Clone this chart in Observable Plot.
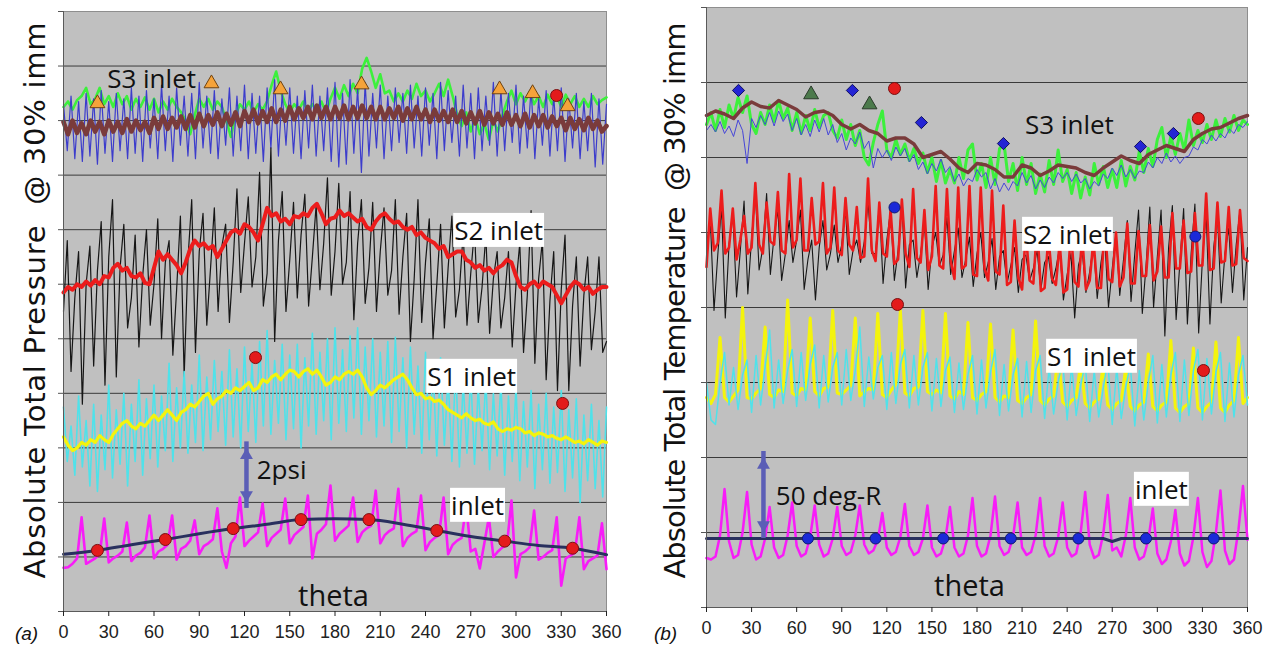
<!DOCTYPE html>
<html>
<head>
<meta charset="utf-8">
<script src="https://cdn.jsdelivr.net/npm/d3@7"></script>
<script src="https://cdn.jsdelivr.net/npm/@observablehq/plot@0.6"></script>
<style>
  html, body { margin: 0; background: #fff; }
  #fig { position: relative; width: 1270px; height: 645px; overflow: hidden; }
  #fig svg { position: absolute; top: 0; overflow: visible; }
  #fig text { white-space: pre; }
</style>
</head>
<body>
<div id="fig"></div>
<script>
// ---------------- shared ----------------
const thetaTicks = [0, 30, 60, 90, 120, 150, 180, 210, 240, 270, 300, 330, 360];

// ---------------- (a) absolute total pressure, psi ----------------
const psiTicks = [0, 2, 4, 6, 8, 10, 12, 14, 16, 18, 20, 22];
const psiGrid = [2, 4, 6, 8, 10, 12, 14, 16, 18, 20];

const pS3Green = [18.5,18.7,18.4,18.75,18.9,19.2,18.6,18.8,19.2,18.6,
  18.9,18.5,19.0,18.6,18.9,18.4,18.8,18.5,18.85,18.4,
  18.8,18.3,18.7,18.4,18.8,18.5,18.3,18.0,17.5,18.2,
  18.8,18.5,18.8,18.4,18.7,18.5,18.0,17.4,18.2,18.6,
  18.4,18.7,18.3,18.6,18.4,18.7,19.3,19.8,19.1,18.6,
  18.3,18.6,18.4,18.7,18.3,18.6,18.4,18.7,18.3,18.8,
  19.2,18.8,19.3,18.9,19.35,19.0,19.9,20.3,19.8,19.2,
  19.7,19.0,19.1,18.7,19.0,18.7,19.1,18.8,19.35,18.9,
  19.1,18.7,19.0,19.35,18.9,19.5,18.9,18.2,17.8,18.3,
  17.6,18.1,17.5,17.9,17.3,18.0,17.6,18.2,18.7,19.1,
  18.6,19.0,18.7,19.05,18.6,18.9,18.5,18.95,18.6,18.9,
  18.5,18.95,18.6,18.9,18.5,18.8,18.5,18.9,18.6,18.75,
  18.85];
const pS3Blue = [18.6,16.9,18.9,16.6,18.7,16.5,19.0,16.7,18.8,16.4,19.1,16.8,18.7,16.5,19.0,16.9,18.8,16.6,19.2,16.8,
  18.9,16.5,19.1,17.0,18.8,16.6,19.3,16.9,18.9,16.5,19.2,17.1,18.9,16.7,19.0,16.6,19.4,17.0,18.9,16.8,
  19.1,16.6,18.8,17.1,19.2,16.7,18.9,16.9,19.3,16.6,19.0,16.8,18.9,16.5,19.2,17.0,19.5,16.7,19.0,17.1,
  19.2,16.8,18.9,16.6,19.1,17.0,19.3,16.7,18.9,16.9,19.2,16.5,19.4,16.3,19.0,16.4,19.5,16.8,19.2,16.1,
  19.4,16.7,19.0,17.0,19.3,16.6,18.9,16.9,19.2,17.2,19.0,16.8,19.3,17.0,18.9,16.7,19.2,17.1,19.0,16.6,
  19.4,16.9,19.1,17.2,18.9,16.7,19.3,17.0,19.0,16.6,19.2,16.9,18.9,17.1,19.4,16.7,19.1,16.9,19.0,17.2,
  19.3,16.8,18.9,17.0,19.2,16.6,18.8,17.1,19.1,16.7,18.9,16.9,19.2,16.5,18.8,17.0,19.0,16.6,18.7,16.9,
  19.0,16.3,18.8,16.4,
  18.6];
const pS3Brown = [17.95,17.5,18.0,17.55,17.9,17.5,18.0,17.6,17.95,17.5,
  18.0,17.6,17.95,17.55,18.05,17.6,18.0,17.65,17.95,17.55,
  18.1,17.7,18.15,17.7,18.1,17.75,18.15,17.7,18.2,17.75,
  18.25,17.8,18.2,17.85,18.3,17.8,18.25,17.85,18.3,17.8,
  18.35,17.95,18.4,17.9,18.35,17.95,18.45,17.95,18.4,18.0,
  18.5,18.05,18.45,18.1,18.5,18.05,18.55,18.1,18.5,18.05,
  18.5,18.1,18.55,18.05,18.5,18.1,18.55,18.1,18.5,18.05,
  18.5,18.05,18.45,18.1,18.5,18.0,18.45,18.05,18.5,18.05,
  18.4,17.95,18.4,18.0,18.35,17.95,18.4,17.95,18.35,17.9,
  18.3,17.9,18.35,17.85,18.3,17.9,18.25,17.85,18.3,17.85,
  18.2,17.8,18.25,17.75,18.2,17.8,18.2,17.75,18.15,17.8,
  18.1,17.65,18.1,17.7,18.05,17.65,18.1,17.7,18.0,17.6,
  17.8];
const pS2Black = [11.0,13.6,8.8, 11.5,13.2,7.6, 12.0,13.4,9.0, 12.5,14.3,8.3, 13.0,15.1,8.6, 12.6,14.2,10.4, 11.5,13.8,9.7, 12.3,14.0,10.5,
  12.0,14.4,10.0, 12.8,13.6,9.4, 11.8,14.5,8.6, 12.9,15.1,9.5, 13.2,14.6,10.5, 12.6,14.8,11.0, 13.4,14.2,10.6, 12.8,15.5,11.7,
  13.5,15.2,11.9, 13.0,16.1,11.2, 12.4,17.0,9.9, 13.6,15.4,11.0, 12.9,15.0,11.5, 13.8,15.3,11.2, 13.0,14.9,11.8, 13.5,15.9,11.6,
  13.2,15.7,12.0, 12.8,15.4,10.7, 13.5,15.1,11.3, 12.6,15.0,11.0, 13.2,14.8,11.6, 12.5,15.1,10.9, 13.0,14.6,9.9, 12.2,15.1,10.6,
  12.8,14.4,10.0, 12.0,14.2,10.4, 12.6,14.5,10.8, 11.8,13.9,10.5, 12.4,14.0,10.6, 11.9,13.8,10.2, 12.2,13.2,10.4, 11.5,13.2,9.7,
  12.0,13.5,9.5, 11.6,14.7,9.1, 12.2,13.6,8.5, 11.4,13.2,8.1, 11.8,13.8,8.1, 11.2,13.0,9.0, 11.6,13.0,9.6, 11.0,13.0,9.5,
  9.9];
const pS2Red = [11.7,11.9,11.8,12.0,11.9,12.1,11.95,12.15,12.0,12.3,
  12.25,12.6,12.75,12.5,12.6,12.3,12.25,12.4,12.05,12.0,
  12.6,13.2,12.9,13.1,12.9,12.7,12.4,12.8,13.3,13.6,
  13.4,13.5,13.3,13.4,13.0,13.3,13.6,13.9,14.0,13.85,
  14.2,14.1,13.9,13.6,14.2,14.8,14.5,14.6,14.3,14.4,
  14.2,14.5,14.45,14.6,14.5,14.8,14.95,14.6,14.2,14.4,
  14.45,14.7,14.5,14.6,14.45,14.3,14.4,14.1,14.0,14.3,
  14.5,14.6,14.4,14.25,14.3,14.1,14.0,14.1,13.8,13.9,
  13.7,13.6,13.5,13.3,13.4,13.0,13.1,13.2,13.2,12.9,
  12.8,12.6,12.7,12.5,12.6,12.4,12.6,12.7,12.9,12.8,
  12.3,11.9,11.8,12.0,12.1,11.9,12.1,12.0,11.9,11.6,
  11.3,11.6,11.9,12.1,12.0,11.8,11.9,11.65,11.8,11.9,
  11.9];
const pS1Cyan = [7.5,5.5,6.8,5.0,7.9,5.3,7.0,4.6,7.6,4.4,7.2,5.2,8.3,4.9,7.4,5.4,8.0,4.6,7.6,5.5,
  8.5,5.0,7.8,5.6,8.3,5.3,7.9,5.9,9.1,5.5,8.2,6.0,8.8,5.8,8.3,6.2,9.4,5.9,8.6,6.3,
  9.2,6.6,8.8,6.1,9.6,6.4,8.9,6.0,9.7,6.6,9.1,6.2,9.9,6.8,10.3,6.5,9.2,6.9,9.8,6.3,
  9.4,6.7,9.8,6.0,9.3,6.8,10.2,6.5,9.5,7.0,10.0,6.3,10.4,6.9,9.6,6.6,10.1,7.1,10.4,6.5,
  9.7,7.0,10.0,6.4,9.5,6.8,9.9,6.2,10.05,6.6,9.3,6.0,9.7,6.5,9.0,5.8,9.5,6.3,8.9,5.7,
  9.3,6.1,8.6,5.5,9.0,5.3,8.4,5.8,8.7,5.4,8.2,5.9,8.5,5.2,8.0,5.7,8.4,5.0,7.9,5.5,
  8.2,4.8,7.7,5.3,8.1,4.5,7.6,5.2,8.0,4.7,7.5,5.1,8.1,4.4,7.4,4.9,7.8,4.0,7.2,4.8,
  7.6,4.5,7.0,4.2,
  7.5];
const pS1Yellow = [6.4,6.1,5.9,6.0,6.2,6.1,6.3,6.2,6.45,6.3,
  6.2,6.5,6.7,6.9,7.0,6.8,6.7,6.9,6.8,7.0,
  7.2,7.0,7.2,7.4,7.2,7.0,7.3,7.4,7.6,7.5,
  7.7,7.9,8.0,7.6,7.8,7.9,8.1,8.0,8.2,8.1,
  8.25,8.4,8.1,8.2,8.5,8.4,8.6,8.7,8.5,8.7,
  8.85,8.8,8.6,8.8,8.9,8.7,8.85,8.6,8.3,8.4,
  8.6,8.5,8.7,8.8,8.7,8.85,8.6,8.2,7.95,8.1,
  8.3,8.2,8.35,8.5,8.6,8.7,8.5,8.2,7.95,8.0,
  7.8,7.85,7.7,7.75,7.6,7.4,7.3,7.2,7.1,7.25,
  7.1,7.0,7.05,6.9,6.85,6.95,6.7,6.6,6.7,6.65,
  6.75,6.7,6.55,6.6,6.45,6.55,6.5,6.4,6.45,6.35,
  6.3,6.4,6.3,6.2,6.25,6.15,6.3,6.2,6.1,6.25,
  6.2];
const pInlet = [1.6,1.62,1.75,1.95,3.45,1.75,1.85,1.95,2.1,3.41,
  1.8,1.95,2.05,2.2,3.26,1.85,2.05,2.15,2.35,3.52,
  1.95,2.2,2.3,2.45,3.52,1.9,2.3,2.4,2.6,3.34,
  2.1,2.4,2.5,2.65,3.78,2.2,1.6,2.5,2.75,4.18,
  2.4,2.6,2.75,2.9,3.96,2.4,2.7,2.85,3.0,4.14,
  2.5,2.8,2.95,3.1,4.25,1.95,2.85,3.0,3.2,4.62,
  2.6,2.85,3.0,3.15,4.18,2.55,2.9,3.05,3.15,4.43,
  2.5,2.8,2.95,3.05,4.5,2.4,2.7,2.85,2.95,4.25,
  2.25,2.55,2.7,2.8,4.18,2.1,2.45,2.6,2.7,3.89,
  2.2,2.3,1.58,2.5,3.45,2.0,2.2,2.35,2.45,4.07,
  1.25,2.1,2.2,2.35,3.7,1.9,2.0,2.15,2.25,3.45,
  0.95,1.95,2.05,2.15,3.45,1.55,1.85,1.95,2.05,3.23,
  1.55];
const pInletMeanTheta = [0,22.5,45,67.5,90,112.5,135,157.5,180,202.5,225,247.5,270,292.5,315,337.5,360];
const pInletMean = [2.1,2.24,2.45,2.64,2.85,3.04,3.2,3.37,3.4,3.37,3.2,2.97,2.75,2.58,2.42,2.32,2.08];
const pRakeTheta = [22.5,67.5,112.5,157.5,202.5,247.5,292.5,337.5];
const pRakeValue = [2.24,2.64,3.04,3.37,3.37,2.97,2.58,2.32];
const pTriTheta = [22.5,98.1,143.9,197.6,289.1,311,334.2];
const pTriValue = [18.63,19.36,19.14,19.32,19.14,19.0,18.52];
const pRedTheta = [326.9,127.3,330.9];
const pRedValue = [18.92,9.31,7.63];
const pLabelText = ["S3 inlet", "2psi"];
const pLabelTheta = [58.4, 144.6];
const pLabelValue = [19.5, 5.17];
const pBoxText = ["S2 inlet", "S1 inlet", "inlet"];
const pBoxTheta = [288.5, 270.6, 274.5];
const pBoxValue = [13.93, 8.58, 3.85];
const pArrow = {theta: 121.3, from: 4, to: 6};
const pTitle = "Absolute Total Pressure  @ 30% imm";

// ---------------- (b) absolute total temperature, deg-R ----------------
const degTicks = [0, 50, 100, 150, 200, 250, 300, 350, 400];
const degGrid = [50, 100, 200, 250, 300, 350];
const degDashed = [150];

const tS3Green = [322,330,318,332,320,335,326,340,330,341,
  322,316,330,322,335,324,338,326,333,318,
  330,316,328,318,332,320,328,330,318,313,
  325,312,322,308,318,300,295,310,322,331,
  305,300,312,302,309,298,306,296,303,290,
  300,284,298,283,292,283,300,286,305,309,
  285,296,280,300,282,306,309,284,296,278,
  300,282,296,276,289,277,298,282,305,284,
  292,276,290,273,287,275,296,282,294,280,
  292,280,298,281,294,285,304,290,306,294,
  312,320,300,314,302,316,305,325,308,318,
  310,322,312,325,314,326,317,328,318,325,
  322];
const tS3Blue = [318,322,317,324,316,321,314,325,318,296,
  326,320,328,322,330,321,331,324,329,318,
  326,315,322,314,325,317,326,315,322,310,
  316,305,313,309,317,306,311,293,306,300,
  305,298,307,301,306,297,302,292,297,289,
  296,291,299,290,294,284,289,281,286,284,
  292,287,290,279,286,277,283,278,284,281,
  290,283,288,279,285,280,287,283,290,286,
  290,284,289,283,286,279,284,281,289,286,
  293,288,295,287,292,286,291,290,297,293,
  300,296,303,297,301,296,300,301,307,305,
  312,309,315,311,316,313,319,316,322,320,
  324];
const tS3Brown = [328,331,329,326,333,337,334,333,338,335,
  332,327,330,331,328,322,319,322,318,316,
  311,313,313,309,300,302,304,299,293,290,
  296,295,292,287,287,295,293,288,291,295,
  294,293,290,288,293,297,301,298,296,302,
  305,308,306,304,312,316,319,320,323,326,
  328];
const tS2Black = [240,260,198, 235,267,193, 242,263,207, 238,271,209, 246,277,225, 240,276,222, 248,265,218, 236,258,230,
  245,265,212, 232,245,205, 240,258,225, 236,255,230, 242,265,222, 238,245,230, 244,270,236, 236,269,216,
  245,265,218, 238,271,213, 242,245,220, 236,257,212, 240,250,228, 235,260,222, 238,253,220, 232,247,214,
  236,250,220, 230,246,212, 234,238,216, 228,240,210, 232,235,218, 226,238,212, 230,234,216, 226,240,205,
  222,236,193, 228,238,210, 224,242,206, 230,246,200, 226,250,208, 232,258,204, 236,265,196, 228,267,200,
  234,265,181, 240,268,192, 230,266,189, 236,269,183, 232,263,189, 240,262,203, 236,253,210, 242,265,205,
  240];
const tS2Red = [227,266,238, 243,278,236, 240,266,232, 245,261,236, 240,283,242, 236,270,244, 242,277,238, 236,289,240,
  245,286,238, 238,273,242, 244,283,236, 240,280,238, 235,273,242, 238,267,233, 234,286,238, 231,270,236,
  234,265,229, 232,272,236, 227,279,233, 230,265,225, 234,281,228, 226,279,231, 219,280,226, 228,281,222,
  221,280,226, 218,278,224, 222,268,215, 217,258,220, 212,250,218, 216,255,211, 213,247,219, 215,243,210,
  212,251,217, 214,247,212, 218,245,213, 213,256,219, 217,250,214, 220,256,216, 216,251,221, 221,255,218,
  224,254,220, 220,263,226, 226,258,223, 224,263,228, 228,276,225, 226,270,230, 231,267,228, 229,265,233,
  231];
const tS1Yellow = [140,136,142,180,140,137,141,145,200,140,
  139,143,146,187,142,140,145,144,205,143,
  141,146,145,193,144,141,146,147,198,143,
  142,145,148,193,141,144,146,145,196,142,
  140,145,149,198,143,141,146,147,198,144,
  142,145,143,196,141,139,144,142,190,140,
  138,142,144,189,140,137,141,140,185,138,
  136,140,142,191,138,135,139,141,169,137,
  134,138,140,163,136,133,137,139,162,135,
  132,136,138,160,134,131,135,137,169,134,
  131,135,137,178,133,130,134,136,173,133,
  130,134,137,177,133,130,135,138,180,136,
  140];
const tS1Cyan = [150,125,122,150,170,135,160,132,155,165,
  130,168,135,160,185,133,165,136,158,172,
  134,170,138,162,175,133,168,137,160,170,
  135,172,138,158,187,134,167,139,160,168,
  132,170,136,162,172,133,168,135,160,170,
  131,166,134,158,167,130,163,132,155,168,
  129,165,133,157,172,128,162,131,155,166,
  127,164,130,158,168,126,160,129,150,165,
  125,162,128,148,163,124,158,127,146,165,
  122,160,126,147,162,121,158,125,150,168,
  123,162,127,155,170,124,165,128,158,172,
  125,166,129,157,170,124,163,127,155,168,
  135];
const tInlet = [33,32,34,48,79,44,33,35,50,77,
  42,32,34,46,67,40,33,35,48,70,
  41,34,36,47,68,42,34,36,46,67,
  41,35,37,48,68,42,36,38,45,63,
  40,35,37,47,69,41,35,37,46,68,
  40,34,36,46,67,40,34,36,48,73,
  41,34,36,48,74,41,35,37,47,70,
  40,35,37,48,73,41,34,36,47,70,
  40,34,36,50,77,42,33,35,49,75,
  38,40,34,48,73,40,32,34,45,66,
  36,29,32,44,65,36,28,31,47,73,
  37,27,31,50,78,38,29,32,52,81,
  45];
const tInletMeanTheta = [0, 264, 270, 276, 360];
const tInletMean = [46, 46, 44, 46, 46];
const tRakeTheta = [67.5,112.5,157.5,202.5,247.5,292.5,337.5];
const tRakeValue = [46,46,46,46,46,46,46];
const tDiamondTheta = [21.3,97.1,143,197.6,288.8,310.7];
const tDiamondValue = [344.7,344.7,323.3,309.3,307.3,316];
const tTriTheta = [69.6,108.5];
const tTriValue = [342,335.3];
const tRedTheta = [125.1,327.3,127.1,330.7];
const tRedValue = [346,326,202,158];
const tBlueTheta = [125.1,325.3];
const tBlueValue = [266.7,247.3];
const tLabelText = ["S3 inlet", "50 deg-R"];
const tLabelTheta = [241.5, 81.2];
const tLabelValue = [321, 74];
const tBoxText = ["S2 inlet", "S1 inlet", "inlet"];
const tBoxTheta = [240.2, 256.2, 302.7];
const tBoxValue = [248, 166.7, 78];
const tArrow = {theta: 37.9, from: 50, to: 100};
const tTitle = "Absolute Total Temperature  @ 30% imm";

// ---------------- drawing helpers ----------------
const FONT = "'Open Sans', 'DejaVu Sans', sans-serif";
const TITLEFONT = "'DejaVu Sans', 'Open Sans', sans-serif";
const TICKFONT = "'Liberation Sans', Arial, sans-serif";
const TITLE_LENGTH = 556;
const C = {
  bg: "#c0c0c0", grid: "#3a3a3a", green: "#3cf03c", blue: "#3c3ccc", brown: "#7a3b3b",
  black: "#161616", red: "#ec1c1c", cyan: "#4fe2ea", yellow: "#f4f40c", magenta: "#f81cf8",
  navy: "#29305e", arrow: "#5b5eb6"
};

// evenly sampled trace around the revolution
function trace(vals, stroke, strokeWidth) {
  const step = 360 / (vals.length - 1);
  return Plot.line(vals, {x: (d, i) => i * step, y: d => d, stroke, strokeWidth,
    strokeLinejoin: "round", strokeLinecap: "round"});
}

function doubleArrow({theta, from, to}) {
  return [
    Plot.ruleX([theta], {y1: from, y2: to, stroke: C.arrow, strokeWidth: 4.5, insetTop: 6, insetBottom: 6}),
    Plot.dot([theta], {x: d => d, y: [to], symbol: "triangle", r: 4.8, fill: C.arrow, stroke: "none", dy: 7.5}),
    Plot.dot([theta], {x: d => d, y: [from], symbol: "triangle", rotate: 180, r: 4.8, fill: C.arrow, stroke: "none", dy: -7.5})
  ];
}

function labels(text, theta, value, size = 26) {
  return Plot.text(text, {x: theta, y: value, text: d => d, fontSize: size, fontFamily: FONT,
    fill: "#111", textAnchor: "middle", lineAnchor: "middle"});
}

function axes(yTicks, yMin) {
  return [
    Plot.ruleX([0], {stroke: "#5a5a5a"}),
    Plot.ruleY([yMin], {stroke: "#5a5a5a"}),
    Plot.axisX(thetaTicks, {tickSize: 5, tickPadding: 9, fontSize: 18, fontFamily: TICKFONT, color: "#222", label: null}),
    Plot.axisY(yTicks, {tickSize: 5, tickFormat: () => "", color: "#555", label: null})
  ];
}

function title(text, dx, dy) {
  return Plot.text([text], {frameAnchor: "left", text: d => d, rotate: -90, dx, dy,
    fontSize: 29, fontFamily: TITLEFONT, fill: "#111", textAnchor: "middle", lineAnchor: "middle"});
}

function mount(svg, left) {
  svg.style.left = left + "px";
  document.getElementById("fig").append(svg);
}

// ---------------- panel (a) ----------------
const pressure = Plot.plot({
  width: 640, height: 645,
  marginLeft: 63, marginRight: 34, marginTop: 11, marginBottom: 34,
  x: {domain: [0, 360], axis: null},
  y: {domain: [0, 22], axis: null},
  style: {background: "transparent", overflow: "visible"},
  marks: [
    Plot.frame({fill: C.bg, stroke: "none"}),
    Plot.gridY(psiGrid, {stroke: C.grid, strokeOpacity: 1, strokeWidth: 1}),
    Plot.frame({stroke: "#8e8e8e"}),
    trace(pS3Green, C.green, 2.6),
    trace(pS3Blue, C.blue, 1.2),
    trace(pS3Brown, C.brown, 4.6),
    trace(pS2Black, C.black, 1.2),
    trace(pS2Red, C.red, 4),
    trace(pS1Cyan, C.cyan, 1.6),
    trace(pS1Yellow, C.yellow, 3.2),
    trace(pInlet, C.magenta, 2.6),
    Plot.line(pInletMean, {x: pInletMeanTheta, y: d => d, stroke: C.navy, strokeWidth: 3, curve: "monotone-x"}),
    Plot.dot(pRakeTheta, {x: d => d, y: pRakeValue, r: 6, fill: "#e31b1b", stroke: "#7a1010", strokeWidth: 1}),
    Plot.dot(pTriTheta, {x: d => d, y: pTriValue, symbol: "triangle", r: 5.5, fill: "#f5a33a", stroke: "#6e4210", strokeWidth: 1}),
    Plot.dot(pRedTheta, {x: d => d, y: pRedValue, r: 6, fill: "#e31b1b", stroke: "#7a1010", strokeWidth: 1}),
    ...doubleArrow(pArrow),
    labels(pLabelText, pLabelTheta, pLabelValue),
    labels(pBoxText, pBoxTheta, pBoxValue),
    labels(["theta"], [179], [0.55], 29),
    ...axes(psiTicks, 0),
    title(pTitle, -28, -11),
    Plot.text(["(a)"], {frameAnchor: "bottom-left", text: d => d, dx: -37, dy: 22, fontStyle: "italic",
      fontSize: 19, fontFamily: TICKFONT, fill: "#111", textAnchor: "middle", lineAnchor: "middle"})
  ]
});
mount(pressure, 0);

// ---------------- panel (b) ----------------
const temperature = Plot.plot({
  width: 630, height: 645,
  marginLeft: 66, marginRight: 23, marginTop: 7, marginBottom: 38,
  x: {domain: [0, 360], axis: null},
  y: {domain: [0, 400], axis: null},
  style: {background: "transparent", overflow: "visible"},
  marks: [
    Plot.frame({fill: C.bg, stroke: "none"}),
    Plot.gridY(degGrid, {stroke: C.grid, strokeOpacity: 1, strokeWidth: 1}),
    Plot.gridY(degDashed, {stroke: "#2a2a2a", strokeOpacity: 1, strokeWidth: 1.2, strokeDasharray: "10,4,3,4"}),
    Plot.frame({stroke: "#8e8e8e"}),
    trace(tS3Green, C.green, 3),
    trace(tS3Blue, "#4646d8", 1),
    trace(tS3Brown, C.brown, 3.5),
    trace(tS2Black, C.black, 1.1),
    trace(tS2Red, C.red, 2.6),
    trace(tS1Yellow, C.yellow, 3),
    trace(tS1Cyan, C.cyan, 1.5),
    trace(tInlet, C.magenta, 2.5),
    Plot.line(tInletMean, {x: tInletMeanTheta, y: d => d, stroke: C.navy, strokeWidth: 3}),
    Plot.dot(tRakeTheta, {x: d => d, y: tRakeValue, r: 5.5, fill: "#1a2ad8", stroke: "#101a70", strokeWidth: 1}),
    Plot.dot(tDiamondTheta, {x: d => d, y: tDiamondValue, symbol: "diamond2", r: 5.5, fill: "#2424d4", stroke: "#101060", strokeWidth: 1}),
    Plot.dot(tTriTheta, {x: d => d, y: tTriValue, symbol: "triangle", r: 5.5, fill: "#4c7a4c", stroke: "#2a3a2a", strokeWidth: 1}),
    Plot.dot(tRedTheta, {x: d => d, y: tRedValue, r: 6, fill: "#e31b1b", stroke: "#7a1010", strokeWidth: 1}),
    Plot.dot(tBlueTheta, {x: d => d, y: tBlueValue, r: 5.5, fill: "#1a2ad8", stroke: "#101a70", strokeWidth: 1}),
    ...doubleArrow(tArrow),
    labels(tLabelText, tLabelTheta, tLabelValue),
    labels(tBoxText, tBoxTheta, tBoxValue),
    labels(["theta"], [175], [14], 29),
    ...axes(degTicks, 0),
    title(tTitle, -31, -7),
    Plot.text(["(b)"], {frameAnchor: "bottom-left", text: d => d, dx: -41, dy: 26, fontStyle: "italic",
      fontSize: 19, fontFamily: TICKFONT, fill: "#111", textAnchor: "middle", lineAnchor: "middle"})
  ]
});
mount(temperature, 640);

// white boxes behind the boxed station labels; titles stretched to the plot height
const boxedLabels = new Set([...pBoxText, ...tBoxText]);
const titles = new Set([pTitle, tTitle]);
document.querySelectorAll("#fig text").forEach(t => {
  if (titles.has(t.textContent)) {
    t.setAttribute("textLength", TITLE_LENGTH);
    t.setAttribute("lengthAdjust", "spacing");
  }
  if (!boxedLabels.has(t.textContent)) return;
  const b = t.getBBox();
  const r = document.createElementNS("http://www.w3.org/2000/svg", "rect");
  r.setAttribute("x", b.x - 1);
  r.setAttribute("y", b.y + 1);
  r.setAttribute("width", b.width + 2);
  r.setAttribute("height", b.height - 2);
  r.setAttribute("fill", "#fff");
  r.setAttribute("stroke", "none");
  const tf = t.getAttribute("transform");
  if (tf) r.setAttribute("transform", tf);
  t.parentNode.insertBefore(r, t);
});
</script>
</body>
</html>
